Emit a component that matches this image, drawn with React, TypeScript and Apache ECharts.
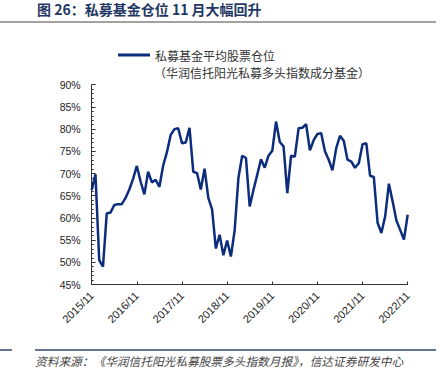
import React, { useEffect, useRef } from "react";
import * as echarts from "echarts";

const TITLE = "图 26：私募基金仓位 11 月大幅回升";
const SERIES_NAME = "私募基金平均股票仓位";
const SERIES_SUB = "（华润信托阳光私募多头指数成分基金）";
const SOURCE = "资料来源：《华润信托阳光私募股票多头指数月报》，信达证券研发中心";

const START_YEAR = 2015;
const START_MONTH = 11;
const MONTH_COUNT = 85;

// Monthly average equity position (%) from 2015/11 to 2022/11
const positions: number[] = [
  66.3, 69.8, 50.5, 49.0, 61.0, 61.2, 62.9, 63.1, 63.1, 64.5, 66.4, 68.8,
  71.7, 68.2, 65.3, 70.4, 68.0, 68.6, 67.0, 71.8, 74.8, 78.7, 80.0, 80.2,
  76.8, 77.0, 80.3, 70.4, 70.1, 66.4, 71.1, 64.5, 61.9, 53.1, 56.2, 51.6,
  54.9, 51.3, 57.2, 69.0, 74.0, 73.5, 62.6, 66.3, 69.7, 73.2, 71.3, 74.0,
  75.1, 81.7, 77.1, 76.1, 65.6, 74.0, 73.8, 80.2, 80.3, 81.1, 75.2, 77.5,
  78.9, 79.1, 75.0, 73.1, 70.7, 75.7, 78.5, 77.4, 73.1, 72.7, 71.3, 72.3,
  76.6, 76.8, 69.5, 69.2, 58.9, 56.6, 60.3, 67.7, 63.7, 59.4, 57.3, 55.1,
  60.7,
];

const months: string[] = [];
for (let i = 0; i < MONTH_COUNT; i++) {
  const m0 = START_MONTH - 1 + i;
  const y = START_YEAR + Math.floor(m0 / 12);
  const m = (m0 % 12) + 1;
  months.push(`${y}/${m}`);
}

const Y_MIN = 45;
const Y_MAX = 90;
const Y_STEP = 5;

const LINE_COLOR = "#0c2c7c";

export default function App() {
  const ref = useRef<HTMLDivElement>(null);
  useEffect(() => {
    document.body.style.margin = "0";
    if (!ref.current) return;
    const chart = echarts.init(ref.current, undefined, { renderer: "svg" });
    const cjk = "'Noto Sans CJK SC', sans-serif";
    const latin = "'Liberation Sans', Arial, sans-serif";
    chart.setOption({
      animation: false,
      backgroundColor: "#ffffff",
      grid: { left: 91.7, right: 34.3, top: 84.7, bottom: 101.5, containLabel: false },
      legend: {
        data: [SERIES_NAME],
        left: 118,
        top: 49,
        padding: 0,
        icon: "rect",
        itemWidth: 32,
        itemHeight: 3,
        textStyle: { fontSize: 12, color: "#333", fontFamily: cjk },
      },
      xAxis: {
        type: "category",
        data: months,
        boundaryGap: false,
        axisLine: { lineStyle: { color: "#333", width: 1 } },
        axisTick: {
          inside: true,
          length: 3,
          interval: (i: number) => i % 12 === 0,
          lineStyle: { color: "#333" },
        },
        axisLabel: {
          interval: (i: number) => i % 12 === 0,
          rotate: 45,
          margin: 9,
          fontSize: 11,
          color: "#222",
          fontFamily: latin,
          showMaxLabel: true,
        },
        splitLine: { show: false },
      },
      yAxis: {
        type: "value",
        min: Y_MIN,
        max: Y_MAX,
        interval: Y_STEP,
        axisLine: { show: true, lineStyle: { color: "#333", width: 1 } },
        axisTick: { show: true, inside: true, length: 4, lineStyle: { color: "#333" } },
        minorTick: { show: true, splitNumber: 5, length: 2, lineStyle: { color: "#333" } },
        axisLabel: {
          formatter: "{value}%",
          fontSize: 10.5,
          color: "#222",
          fontFamily: latin,
          margin: 11,
        },
        splitLine: { show: false },
      },
      series: [
        {
          name: SERIES_NAME,
          type: "line",
          data: positions,
          showSymbol: false,
          symbol: "none",
          lineStyle: { color: LINE_COLOR, width: 2.5 },
          itemStyle: { color: LINE_COLOR },
        },
      ],
      graphic: [
        {
          type: "text",
          left: 37,
          top: 2,
          style: {
            text: TITLE,
            font: `bold 14px ${cjk}`,
            fill: "#1f3864",
          },
        },
        {
          type: "line",
          shape: { x1: 0, y1: 22, x2: 436, y2: 22 },
          style: { stroke: "#444", lineWidth: 1 },
        },
        {
          type: "text",
          left: 154,
          top: 66,
          style: { text: SERIES_SUB, font: `12px ${cjk}`, fill: "#333" },
        },
        {
          type: "line",
          shape: { x1: 0, y1: 350, x2: 12, y2: 350 },
          style: { stroke: "#2f4868", lineWidth: 1.5 },
        },
        {
          type: "line",
          shape: { x1: 35, y1: 350, x2: 436, y2: 350 },
          style: { stroke: "#2f4868", lineWidth: 1.5 },
        },
        {
          type: "text",
          left: 35,
          top: 355,
          style: { text: SOURCE, font: `italic 11.7px ${cjk}`, fill: "#444" },
        },
      ],
    });
    return () => chart.dispose();
  }, []);
  return (
    <div
      ref={ref}
      style={{ position: "absolute", left: 0, top: 0, width: 442, height: 386 }}
    />
  );
}
